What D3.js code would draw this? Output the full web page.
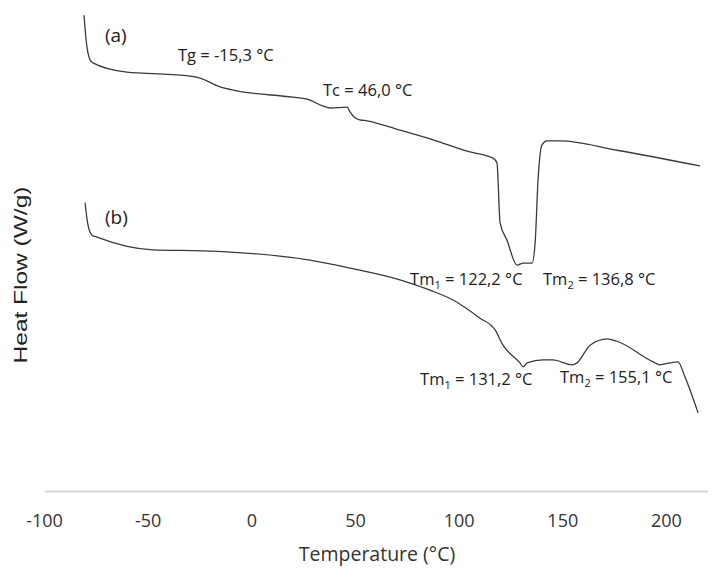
<!DOCTYPE html>
<html>
<head>
<meta charset="utf-8">
<script src="https://cdn.jsdelivr.net/npm/d3@7"></script>
<style>
  body { margin: 0; background: #fff; }
  svg { display: block; }
</style>
</head>
<body>
<script>
// curve (a): temperature (°C) and heat flow (relative units, no y ticks in the source)
const tempA = [-80.7, -79.7, -77.8, -76.4, -60.0, -52.2, -29.6, -24.7, -15.1, -6.9, 20.1, 26.9, 34.6, 38.0, 46.2, 47.6, 50.0, 52.4, 55.8, 71.7, 87.7, 104.1, 116.6, 118.5, 120.0, 123.3, 128.2, 131.1, 135.4, 136.9, 138.3, 140.2, 142.6, 148.9, 176.4, 216.4];
const flowA = [9.69, 9.19, 8.78, 8.72, 8.53, 8.51, 8.45, 8.41, 8.23, 8.15, 8.02, 7.98, 7.84, 7.80, 7.82, 7.72, 7.60, 7.56, 7.54, 7.35, 7.15, 6.92, 6.78, 6.68, 5.46, 5.11, 4.60, 4.64, 4.64, 5.05, 6.33, 7.05, 7.13, 7.13, 6.94, 6.62];

// curve (b)
const tempB = [-80.2, -78.8, -76.8, -74.4, -47.4, -23.3, -11.7, 28.3, 47.6, 71.7, 86.2, 97.3, 110.3, 117.6, 121.4, 129.6, 131.1, 133.0, 140.7, 145.5, 154.7, 157.1, 163.4, 171.6, 176.4, 193.8, 197.2, 202.0, 205.8, 209.2, 215.5];
const flowB = [5.87, 5.42, 5.21, 5.17, 4.91, 4.89, 4.87, 4.70, 4.54, 4.30, 4.09, 3.89, 3.52, 3.28, 2.97, 2.61, 2.53, 2.61, 2.67, 2.67, 2.57, 2.61, 2.97, 3.10, 3.05, 2.63, 2.57, 2.61, 2.63, 2.32, 1.59];

const xTicks = [-100, -50, 0, 50, 100, 150, 200];

// annotations, anchored in data units
const noteText = ["(a)", "Tg = -15,3 °C", "Tc = 46,0 °C", "Tm|1| = 122,2 °C", "Tm|2| = 136,8 °C", "(b)", "Tm|1| = 131,2 °C", "Tm|2| = 155,1 °C"];
const noteTemp = [-70.6, -35.4, 34.6, 76.6, 140.7, -70.6, 81.4, 148.9];
const noteFlow = [9.14, 8.76, 8.04, 4.20, 4.20, 5.44, 2.16, 2.20];

const width = 724;
const height = 579;

const svg = d3.select("body")
  .append("svg")
  .attr("width", width)
  .attr("height", height);

const xScale = d3.scaleLinear()
  .domain([-100, 220])
  .range([44, 707.4]);

const yScale = d3.scaleLinear()
  .domain([0, 10])
  .range([491, 0]);

const xAxis = d3.axisBottom(xScale)
  .tickValues(xTicks)
  .tickSize(0)
  .tickPadding(23)
  .tickFormat((d) => String(d));

const gx = svg.append("g")
  .attr("transform", `translate(0, ${yScale(0)})`)
  .call(xAxis);

gx.select(".domain")
  .attr("stroke", "#d9d9d9")
  .attr("stroke-width", 2);

gx.selectAll("text")
  .attr("fill", "#333")
  .style("font-family", "'Open Sans', sans-serif")
  .style("font-size", "18px");

svg.append("text")
  .attr("x", 377)
  .attr("y", 561)
  .attr("text-anchor", "middle")
  .attr("fill", "#333")
  .style("font-family", "'Open Sans', sans-serif")
  .style("font-size", "19.5px")
  .text("Temperature (°C)");

// the source label is stretched along its length
svg.append("text")
  .attr("transform", "translate(27, 275) rotate(-90) scale(1.4, 1)")
  .attr("text-anchor", "middle")
  .attr("fill", "#222")
  .style("font-family", "'Liberation Sans', Arial, sans-serif")
  .style("font-size", "17.5px")
  .text("Heat Flow (W/g)");

const line = d3.line()
  .x((d) => xScale(d[0]))
  .y((d) => yScale(d[1]))
  .curve(d3.curveMonotoneX);

const curves = [
  d3.zip(tempA, flowA),
  d3.zip(tempB, flowB)
];

svg.selectAll(".curve")
  .data(curves)
  .enter()
  .append("path")
  .attr("class", "curve")
  .attr("d", line)
  .attr("fill", "none")
  .attr("stroke", "#3a3a3a")
  .attr("stroke-width", 1.3)
  .attr("stroke-linejoin", "round");

const notes = svg.selectAll(".note")
  .data(noteText)
  .enter()
  .append("text")
  .attr("class", "note")
  .attr("x", (d, i) => xScale(noteTemp[i]))
  .attr("y", (d, i) => yScale(noteFlow[i]))
  .attr("fill", "#222")
  .style("font-family", "'Open Sans', sans-serif")
  .style("font-size", (d) => d.startsWith("(") ? "19px" : "16.5px");

// "Tm|1| = ..." -> Tm with subscript 1
notes.each(function(d) {
  const parts = d.split("|");
  const t = d3.select(this);
  parts.forEach((p, k) => {
    const span = t.append("tspan").text(p);
    if (k === 1) {
      span.attr("dy", 4).style("font-size", "11px");
    } else if (k === 2) {
      span.attr("dy", -4);
    }
  });
});
</script>
</body>
</html>
